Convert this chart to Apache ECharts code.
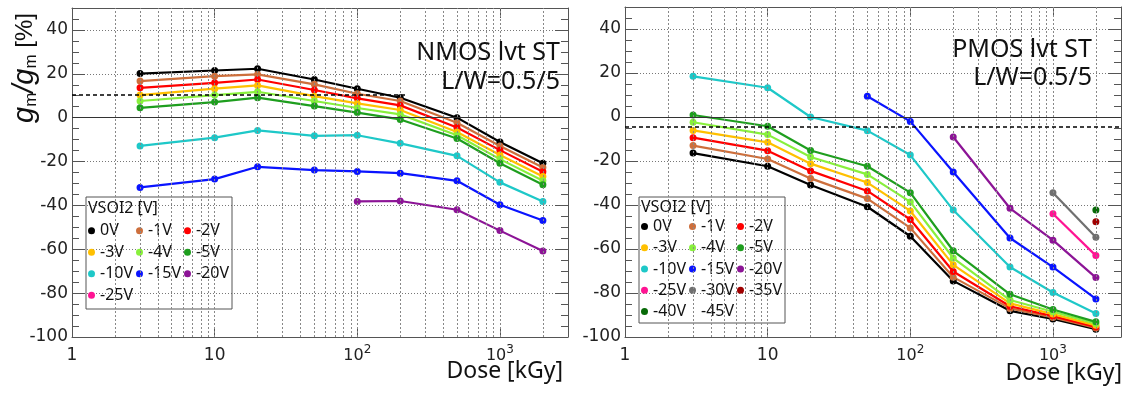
<!DOCTYPE html>
<html><head><meta charset="utf-8">
<script src="https://cdn.jsdelivr.net/npm/echarts@6/dist/echarts.min.js"></script>
<style>html,body{margin:0;padding:0;background:#fff}#c{width:1130px;height:394px}</style>
</head><body><div id="c"></div>
<script>
// ---- data ----
const doses = [3, 10, 20, 50, 100, 200, 500, 1000, 2000];
const nmosNames = ['0V','-1V','-2V','-3V','-4V','-5V','-10V','-15V','-20V','-25V'];
const pmosNames = ['0V','-1V','-2V','-3V','-4V','-5V','-10V','-15V','-20V','-25V','-30V','-35V','-40V','-45V'];

const nmos0V  = [20.1, 21.5, 22.3, 17.4, 13.2, 9.1, 0.0, -11.1, -20.8];
const nmos1V  = [16.7, 18.9, 19.7, 15.2, 10.9, 7.6, -2.3, -12.9, -22.7];
const nmos2V  = [13.6, 15.9, 17.4, 12.6, 8.8, 5.6, -4.5, -14.8, -24.7];
const nmos3V  = [10.3, 13.2, 14.7, 9.8, 6.5, 3.5, -6.5, -17.0, -26.8];
const nmos4V  = [7.6, 10.3, 11.8, 7.6, 4.4, 1.5, -8.0, -18.9, -28.8];
const nmos5V  = [4.5, 7.1, 9.1, 5.3, 2.3, -0.8, -9.5, -20.8, -30.6];
const nmos10V = [-12.9, -9.1, -5.8, -8.3, -8.0, -11.7, -17.4, -29.5, -38.2];
const nmos15V = [-31.8, -28.0, -22.4, -23.9, -24.5, -25.3, -28.8, -39.7, -46.9];
const nmos20V = [null, null, null, null, -38.2, -38.0, -42.0, -51.5, -60.8];
const nmos25V = [null, null, null, null, null, null, null, null, null];

const pmos0V  = [-16.4, -22.4, -30.9, -40.8, -54.2, -74.5, -88.1, -91.8, -96.5];
const pmos1V  = [-13.0, -19.1, -27.9, -37.1, -50.4, -72.8, -87.0, -91.1, -95.9];
const pmos2V  = [-9.4, -15.3, -24.5, -33.6, -46.6, -70.2, -86.0, -90.5, -95.4];
const pmos3V  = [-6.1, -11.5, -21.2, -29.8, -42.7, -67.2, -84.7, -89.6, -94.7];
const pmos4V  = [-2.4, -8.0, -18.2, -26.1, -38.6, -64.1, -83.2, -88.5, -93.9];
const pmos5V  = [0.9, -4.2, -15.2, -22.4, -34.4, -60.8, -80.6, -87.5, -93.1];
const pmos10V = [18.5, 13.3, 0.0, -6.2, -17.3, -42.3, -68.2, -79.8, -89.3];
const pmos15V = [null, null, null, 9.4, -2.0, -25.0, -55.0, -68.2, -82.7];
const pmos20V = [null, null, null, null, null, -9.1, -41.5, -56.0, -73.0];
const pmos25V = [null, null, null, null, null, null, null, -44.0, -63.0];
const pmos30V = [null, null, null, null, null, null, null, -34.4, -54.7];
const pmos35V = [null, null, null, null, null, null, null, null, -47.6];
const pmos40V = [null, null, null, null, null, null, null, null, -42.3];
const pmos45V = [null, null, null, null, null, null, null, null, null];

const nmosValues = [nmos0V, nmos1V, nmos2V, nmos3V, nmos4V, nmos5V, nmos10V, nmos15V, nmos20V, nmos25V];
const pmosValues = [pmos0V, pmos1V, pmos2V, pmos3V, pmos4V, pmos5V, pmos10V, pmos15V, pmos20V, pmos25V, pmos30V, pmos35V, pmos40V, pmos45V];

const yTicksMajor = 20, yTicksMinor = 5, yMin = -100, yMax = 50;
const xMin = 1, xMax = 3000;
const xGridValues = [2,3,4,5,6,7,8,9,10,20,30,40,50,60,70,80,90,100,200,300,400,500,600,700,800,900,1000,2000];
const nmosRefLevel = 10.5, nmosRefEnd = 220;
const pmosRefLevel = -4.5;

const colors = {'0V':'#000000','-1V':'#cd6f3c','-2V':'#ff0000','-3V':'#ffc000','-4V':'#88f03c','-5V':'#1e9e1e',
  '-10V':'#1ec8c8','-15V':'#0a14ff','-20V':'#8c1496','-25V':'#ff1493','-30V':'#707070','-35V':'#a00000','-40V':'#086a08','-45V':'#ffffff'};

// ---- styling helpers ----
const AX = '#555';
const labelFont = 'DejaVu Sans';
const textFont = 'Noto Sans';

function xFmt(v) {
  const r = Math.round(v);
  if (r === 1) return '{b|1}';
  if (r === 10) return '{b|10}';
  if (r === 100) return '{c|10}{p|2}';
  if (r === 1000) return '{c|10}{p|3}';
  return '';
}
const xRich = {
  b: {fontSize: 17, fontFamily: labelFont, color: '#222', lineHeight: 20, verticalAlign: 'bottom'},
  c: {fontSize: 16, fontFamily: labelFont, color: '#222', lineHeight: 20, verticalAlign: 'bottom'},
  p: {fontSize: 12, fontFamily: labelFont, color: '#222', lineHeight: 12, verticalAlign: 'top'}
};

function xAxes(gi) {
  return [
    {type: 'log', logBase: 10, gridIndex: gi, min: xMin, max: xMax, position: 'bottom',
     axisLine: {show: true, onZero: false, lineStyle: {color: AX}},
     axisTick: {show: true, inside: true, length: 10, lineStyle: {color: AX}},
     axisLabel: {show: true, margin: 7, formatter: xFmt, rich: xRich, showMaxLabel: false, showMinLabel: true},
     splitLine: {show: false}},
    {type: 'log', logBase: 10, gridIndex: gi, min: xMin, max: xMax, position: 'top',
     axisLine: {show: true, onZero: false, lineStyle: {color: AX}},
     axisTick: {show: true, inside: true, length: 10, lineStyle: {color: AX}},
     axisLabel: {show: false}, splitLine: {show: false}}
  ];
}
function yAxes(gi) {
  const base = {type: 'value', gridIndex: gi, min: yMin, max: yMax};
  return [
    Object.assign({}, base, {position: 'left', interval: yTicksMajor,
      axisLine: {show: true, onZero: false, lineStyle: {color: AX}},
      axisTick: {show: true, inside: true, length: 13, lineStyle: {color: AX}},
      axisLabel: {show: true, margin: 4, fontSize: 17, fontFamily: labelFont, color: '#222', showMaxLabel: false, showMinLabel: true},
      splitLine: {show: true, lineStyle: {color: '#777', type: [1, 2], width: 1}}}),
    Object.assign({}, base, {position: 'left', interval: yTicksMinor,
      axisLine: {show: false, onZero: false},
      axisTick: {show: true, inside: true, length: 7, lineStyle: {color: AX}},
      axisLabel: {show: false}, splitLine: {show: false}}),
    Object.assign({}, base, {position: 'right', interval: yTicksMajor,
      axisLine: {show: true, onZero: false, lineStyle: {color: AX}},
      axisTick: {show: true, inside: true, length: 13, lineStyle: {color: AX}},
      axisLabel: {show: false}, splitLine: {show: false}}),
    Object.assign({}, base, {position: 'right', interval: yTicksMinor,
      axisLine: {show: false, onZero: false},
      axisTick: {show: true, inside: true, length: 7, lineStyle: {color: AX}},
      axisLabel: {show: false}, splitLine: {show: false}})
  ];
}

function dataSeries(names, values, xi, yi) {
  return names.map((n, k) => ({
    type: 'line', name: n, xAxisIndex: xi, yAxisIndex: yi,
    data: doses.map((d, i) => values[k][i] == null ? null : [d, values[k][i]]).filter(p => p),
    symbol: 'circle', symbolSize: 7, showSymbol: true,
    lineStyle: {width: 2.2, color: colors[n]}, itemStyle: {color: colors[n]},
    emphasis: {disabled: true}, animation: false, z: 3
  }));
}

function gridLinesSeries(xi, yi, extra) {
  const vlines = xGridValues.map(v => ({xAxis: v, lineStyle: {color: '#888', type: [2, 2], width: 1}}));
  return {
    type: 'line', name: 'grid' + xi, xAxisIndex: xi, yAxisIndex: yi, data: [], silent: true, z: 1,
    markLine: {symbol: 'none', silent: true, animation: false, label: {show: false},
      data: vlines.concat([{yAxis: 0, lineStyle: {color: '#333', type: 'solid', width: 1}}]).concat(extra)}
  };
}

const dashStyle = {color: '#000', type: [4, 3], width: 1.6};

function legendFor(names, left, top, pad, lh) {
  return {
    data: names, left: left, top: top, width: 146,
    orient: 'horizontal', icon: 'circle', itemWidth: 7, itemHeight: 7, itemGap: 0,
    borderColor: '#555', borderWidth: 1, borderRadius: 0, selectedMode: false,
    padding: pad,
    textStyle: {fontSize: 16, fontFamily: textFont, color: '#111', width: 36, overflow: 'none', lineHeight: lh}
  };
}

const option = {
  animation: false,
  backgroundColor: '#fff',
  grid: [
    {left: 72, top: 8, width: 496, height: 329},
    {left: 625, top: 7, width: 496, height: 330}
  ],
  xAxis: xAxes(0).concat(xAxes(1)),
  yAxis: yAxes(0).concat(yAxes(1)),
  legend: [
    legendFor(nmosNames, 86, 197, [23, 0, 3, 2], 21.5),
    legendFor(pmosNames, 639, 197, [19, 0, 1, 2], 21.2)
  ],
  series: [
    gridLinesSeries(0, 0, [[{coord: [xMin, nmosRefLevel], lineStyle: dashStyle}, {coord: [nmosRefEnd, nmosRefLevel]}]]),
    gridLinesSeries(2, 4, [{yAxis: pmosRefLevel, lineStyle: dashStyle}])
  ].concat(dataSeries(nmosNames, nmosValues, 0, 0)).concat(dataSeries(pmosNames, pmosValues, 2, 4)),
  graphic: [
    {type: 'text', x: 25, y: 68, rotation: Math.PI / 2, z: 10,
     style: {text: '{g|g}{s|m}{g|/g}{s|m}{t| [%]}', align: 'center', verticalAlign: 'middle', textAlign: 'center', textVerticalAlign: 'middle',
       rich: {g: {fontSize: 29, fontStyle: 'italic', fontFamily: 'Liberation Sans', fill: '#111', color: '#111', lineHeight: 30},
              s: {fontSize: 17, fontFamily: 'Liberation Sans', fill: '#111', color: '#111', lineHeight: 16, verticalAlign: 'bottom'},
              t: {fontSize: 24, fontFamily: 'Liberation Sans', fill: '#111', color: '#111', lineHeight: 30}}}},
    {type: 'text', x: 560, y: 65, z: 10, style: {text: 'NMOS lvt ST', font: '25px "Noto Sans"', fill: '#111', align: 'right', verticalAlign: 'alphabetic', textAlign: 'right', textVerticalAlign: 'bottom'}},
    {type: 'text', x: 560, y: 94, z: 10, style: {text: 'L/W=0.5/5', font: '25px "Noto Sans"', fill: '#111', align: 'right', verticalAlign: 'bottom', textAlign: 'right', textVerticalAlign: 'bottom'}},
    {type: 'text', x: 1092, y: 62, z: 10, style: {text: 'PMOS lvt ST', font: '25px "Noto Sans"', fill: '#111', align: 'right', verticalAlign: 'bottom', textAlign: 'right', textVerticalAlign: 'bottom'}},
    {type: 'text', x: 1092, y: 90, z: 10, style: {text: 'L/W=0.5/5', font: '25px "Noto Sans"', fill: '#111', align: 'right', verticalAlign: 'bottom', textAlign: 'right', textVerticalAlign: 'bottom'}},
    {type: 'text', x: 563, y: 383, z: 10, style: {text: 'Dose [kGy]', font: '23px "Noto Sans"', fill: '#111', align: 'right', verticalAlign: 'bottom', textAlign: 'right', textVerticalAlign: 'bottom'}},
    {type: 'text', x: 1122, y: 385, z: 10, style: {text: 'Dose [kGy]', font: '23px "Noto Sans"', fill: '#111', align: 'right', verticalAlign: 'bottom', textAlign: 'right', textVerticalAlign: 'bottom'}},
    {type: 'text', x: 88, y: 208, z: 10, style: {text: 'VSOI2 [V]', font: '16px "Noto Sans"', fill: '#111', align: 'left', verticalAlign: 'middle', textAlign: 'left', textVerticalAlign: 'middle'}},
    {type: 'text', x: 641, y: 207, z: 10, style: {text: 'VSOI2 [V]', font: '16px "Noto Sans"', fill: '#111', align: 'left', verticalAlign: 'middle', textAlign: 'left', textVerticalAlign: 'middle'}}
  ]
};
const chart = echarts.init(document.getElementById('c'), null, {renderer: 'canvas'});
chart.setOption(option);
</script></body></html>
